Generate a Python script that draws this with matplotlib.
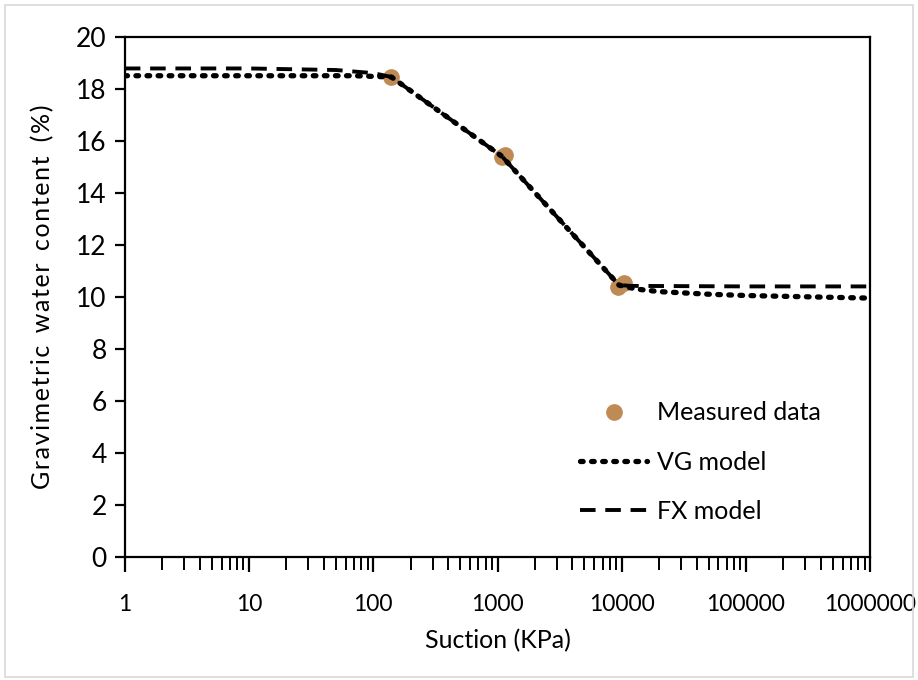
import matplotlib.pyplot as plt
from matplotlib.ticker import LogLocator, FixedLocator, NullFormatter
from matplotlib.patches import Rectangle

plt.rcParams['font.family'] = ['Lato', 'DejaVu Sans']

# Measured data
meas_suction = [140, 1085, 1150, 9300, 10500]
meas_water = [18.45, 15.38, 15.45, 10.38, 10.52]

# VG model curve
vg_suction = [1, 10, 70, 140, 1085, 9500, 13000, 20000, 50000, 100000, 1000000]
vg_water = [18.5, 18.5, 18.5, 18.45, 15.4, 10.45, 10.3, 10.2, 10.1, 10.05, 9.95]

# FX model curve
fx_suction = [1, 10, 50, 100, 140, 1085, 9500, 12000, 100000, 1000000]
fx_water = [18.78, 18.78, 18.72, 18.6, 18.45, 15.4, 10.45, 10.42, 10.4, 10.4]

xticks = [1, 10, 100, 1000, 10000, 100000, 1000000]
xticklabels = ["1", "10", "100", "1000", "10000", "100000", "1000000"]

fig = plt.figure(figsize=(9.18, 6.8), dpi=100)
ax = fig.add_axes([0.136, 0.181, 0.812, 0.765])

# faint border round the picture
fig.patches.append(Rectangle((0.005, 0.005), 0.99, 0.988, transform=fig.transFigure,
                             fill=False, edgecolor="#d9d9d9", linewidth=1.2))

ax.plot(meas_suction, meas_water, "o", color="#c08a55", markersize=11,
        label="Measured data", zorder=2)
ax.plot(vg_suction, vg_water, color="black", linestyle=(0, (0.5, 1.6)),
        dash_capstyle="round", linewidth=3.8, label="VG model", zorder=3)
ax.plot(fx_suction, fx_water, color="black", linestyle=(0, (4, 2.5)),
        linewidth=2.8, label="FX model", zorder=3)

ax.set_xscale("log")
ax.set_xlim(1, 1000000)
ax.set_ylim(0, 20)
ax.set_yticks(range(0, 21, 2))
ax.xaxis.set_major_locator(FixedLocator(xticks))
ax.set_xticklabels(xticklabels)
ax.xaxis.set_minor_locator(LogLocator(base=10, subs=range(2, 10), numticks=20))
ax.xaxis.set_minor_formatter(NullFormatter())

for s in ax.spines.values():
    s.set_linewidth(1.6)
ax.tick_params(axis="x", which="major", direction="out", length=11, width=1.6,
               labelsize=16.5, pad=16)
ax.tick_params(axis="x", which="minor", direction="out", length=9, width=1.4)
ax.tick_params(axis="y", direction="out", length=7, width=1.6, labelsize=19, pad=6)

ax.set_xlabel("Suction (KPa)", fontsize=18, labelpad=10)
ax.set_ylabel("G r a v i m e t r i c   w a t e r   c o n t e n t    ( % )".replace("   ", "\u2002").replace(" ", "\u200a"),
              fontsize=18, labelpad=16)

ax.legend(loc="upper left", bbox_to_anchor=(0.597, 0.318), frameon=False,
          fontsize=18, handlelength=2.7, labelspacing=1.05, handletextpad=0.4,
          borderaxespad=0)

fig.savefig("out.png", dpi=100, facecolor="white")
